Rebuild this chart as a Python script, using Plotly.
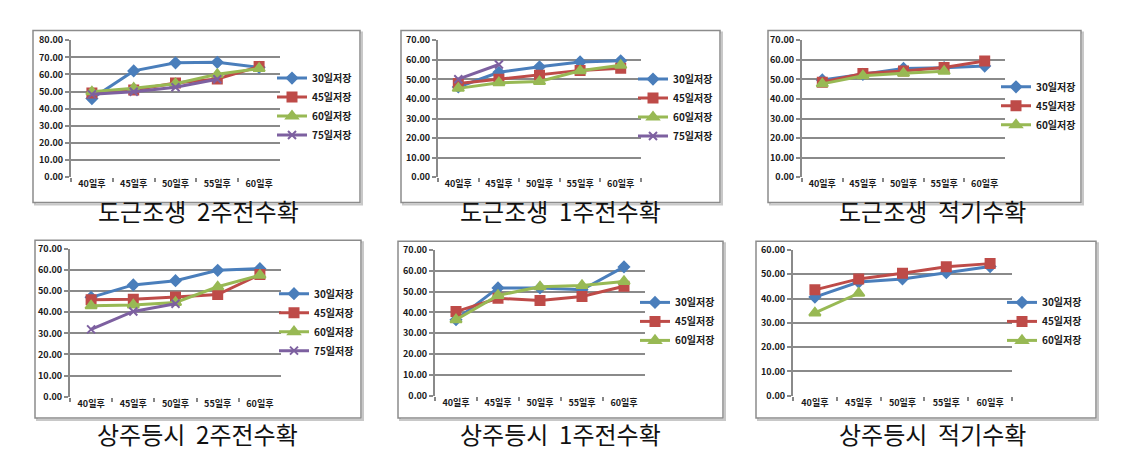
import plotly.graph_objects as go

W, H = 1124, 451

categories = ["40일후", "45일후", "50일후", "55일후", "60일후"]
series_names = ["30일저장", "45일저장", "60일저장", "75일저장"]
titles = ["도근조생  2주전수확", "도근조생  1주전수확", "도근조생  적기수확",
          "상주등시  2주전수확", "상주등시  1주전수확", "상주등시  적기수확"]
y_max = [80, 70, 70, 70, 70, 60]

# 도근조생 2주전수확
p1_30 = [45.9, 62.1, 66.8, 67.1, 64.2]
p1_45 = [49.2, 51.0, 55.0, 57.4, 64.6]
p1_60 = [49.9, 52.0, 54.6, 60.1, 63.5]
p1_75 = [48.4, 49.9, 52.5, 57.2]
# 도근조생 1주전수확
p2_30 = [46.1, 53.6, 56.4, 58.9, 59.5]
p2_45 = [47.9, 50.1, 52.1, 54.6, 55.7]
p2_60 = [45.4, 48.3, 48.9, 54.4, 57.2]
p2_75 = [50.1, 57.6]
# 도근조생 적기수확
p3_30 = [49.7, 52.6, 55.6, 56.0, 56.8]
p3_45 = [48.5, 53.0, 54.3, 56.1, 59.4]
p3_60 = [47.7, 51.8, 53.1, 54.1]
# 상주등시 2주전수확
p4_30 = [47.1, 53.0, 55.0, 59.9, 60.7]
p4_45 = [45.9, 46.2, 47.3, 48.4, 57.9]
p4_60 = [43.1, 43.5, 44.7, 52.1, 57.6]
p4_75 = [31.9, 40.4, 44.1]
# 상주등시 1주전수확
p5_30 = [36.5, 51.8, 51.8, 50.9, 61.9]
p5_45 = [40.4, 46.8, 45.7, 47.7, 52.6]
p5_60 = [36.5, 48.2, 52.3, 53.0, 54.9]
# 상주등시 적기수확
p6_30 = [40.6, 46.8, 48.1, 50.7, 53.2]
p6_45 = [43.6, 48.1, 50.4, 53.1, 54.4]
p6_60 = [34.1, 42.2]

panels = [
    [p1_30, p1_45, p1_60, p1_75],
    [p2_30, p2_45, p2_60, p2_75],
    [p3_30, p3_45, p3_60],
    [p4_30, p4_45, p4_60, p4_75],
    [p5_30, p5_45, p5_60],
    [p6_30, p6_45, p6_60],
]

colors = ["#4a7ebb", "#be4b48", "#98b954", "#7d60a0"]
symbols = ["diamond", "square", "triangle-up", "x-thin"]
msizes = [8, 9, 10, 8]

# layout geometry in pixels
plot_px = [  # x0, x1, ytop, ybottom
    (63, 272, 26, 167),
    (430, 633, 26, 167),
    (794, 997, 26, 167),
    (62, 273, 241, 393),
    (427, 637, 242, 392),
    (785, 1004, 242, 392),
]
frame_px = [
    (25, 352, 16, 193),
    (393, 712, 16, 193),
    (760, 1073, 16, 193),
    (27, 353, 232, 415),
    (390, 715, 233, 415),
    (748, 1088, 233, 415),
]
legend_px = [(264, 50), (625, 51), (988, 59), (266, 272), (627, 281), (994, 281)]
title_px = [(190, 201), (552, 201), (924, 201), (189, 431), (552, 431), (924, 431)]

def px_x(v):
    return v / W

def px_y(v):
    return 1 - v / H

fig = go.Figure()
tick_font = dict(family="Noto Sans CJK KR", size=9, color="#1a1a1a", weight="bold")

for i, series in enumerate(panels):
    n = i + 1
    xa = "x" if n == 1 else f"x{n}"
    ya = "y" if n == 1 else f"y{n}"
    lg = "legend" if n == 1 else f"legend{n}"
    for j, vals in enumerate(series):
        fig.add_trace(go.Scatter(
            x=categories[:len(vals)], y=vals, name=series_names[j],
            mode="lines+markers", xaxis=xa, yaxis=ya, legend=lg,
            line=dict(color=colors[j], width=3),
            marker=dict(symbol=symbols[j], size=msizes[j], color=colors[j],
                        line=dict(color=colors[j], width=2)),
        ))
    x0, x1, yt, yb = plot_px[i]
    xkey = "xaxis" if n == 1 else f"xaxis{n}"
    ykey = "yaxis" if n == 1 else f"yaxis{n}"
    fig.layout[xkey] = dict(
        domain=[px_x(x0), px_x(x1)], anchor=ya, type="category",
        categoryorder="array", categoryarray=categories, range=[-0.5, 4.5],
        showgrid=False, showline=False, ticks="outside", tickson="boundaries",
        ticklen=4, tickcolor="#868686", tickwidth=1.5, tickfont=tick_font,
        fixedrange=True,
    )
    fig.layout[ykey] = dict(
        domain=[px_y(yb), px_y(yt)], anchor=xa, range=[0, y_max[i]], dtick=10,
        tickformat=".2f", showgrid=True, gridcolor="#8a8a8a", gridwidth=2,
        showline=True, linecolor="#8a8a8a", linewidth=2, zeroline=False,
        ticks="outside", ticklen=4, tickcolor="#8a8a8a", tickwidth=1.5,
        tickfont=tick_font, fixedrange=True,
    )
    lx, ly = legend_px[i]
    fig.layout[lg] = dict(
        x=px_x(lx), y=px_y(ly), xanchor="left", yanchor="top",
        font=dict(family="Noto Sans CJK KR", size=10, color="#1a1a1a", weight="bold"),
        bgcolor="rgba(0,0,0,0)", itemwidth=30, tracegroupgap=0,
    )
    fx0, fx1, fyt, fyb = frame_px[i]
    fig.add_shape(type="rect", xref="paper", yref="paper",
                  x0=px_x(fx0 + 2), x1=px_x(fx1 + 2), y0=px_y(fyb + 2), y1=px_y(fyt + 2),
                  line=dict(color="#c8c8c8", width=2), layer="below")
    fig.add_shape(type="rect", xref="paper", yref="paper",
                  x0=px_x(fx0), x1=px_x(fx1), y0=px_y(fyb), y1=px_y(fyt),
                  line=dict(color="#8c8c8c", width=1.5), fillcolor="white", layer="below")
    tx, ty = title_px[i]
    fig.add_annotation(text=titles[i], xref="paper", yref="paper",
                       x=px_x(tx), y=px_y(ty), xanchor="center", yanchor="middle",
                       showarrow=False,
                       font=dict(family="Noto Sans CJK KR", size=24, color="#111111"))

fig.update_layout(
    width=W, height=H, margin=dict(l=0, r=0, t=0, b=0),
    paper_bgcolor="white", plot_bgcolor="rgba(0,0,0,0)", showlegend=True,
    font=dict(family="Noto Sans CJK KR"),
)

fig.write_html("out.html")
